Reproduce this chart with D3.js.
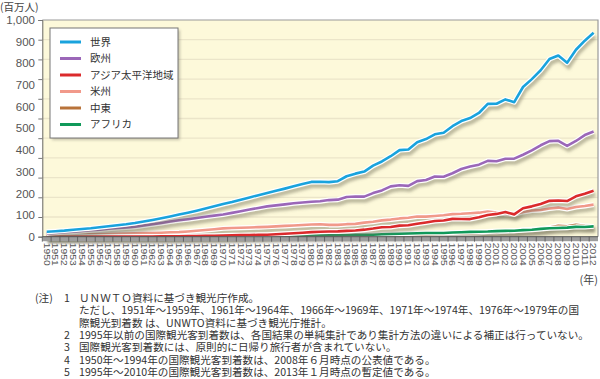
<!DOCTYPE html>
<html>
<head>
<meta charset="utf-8">
<script src="https://cdn.jsdelivr.net/npm/d3@7/dist/d3.min.js"></script>
<style>
  body { margin: 0; background: #fff; }
  svg { display: block; font-family: "Noto Sans CJK JP", sans-serif; }
</style>
</head>
<body>
<div class="canvas"></div>
<script>
// Data (百万人)
const years = d3.range(1950, 2013)

const world = [25.3, 28, 31, 35, 39, 43, 48, 53, 58, 63,
  69.3, 77, 85, 94, 103, 112.9, 122, 132, 143, 154,
  165.8, 176, 188, 199, 211, 222.3, 233, 244, 256, 267,
  278.1, 278.6, 276.9, 281.8, 306.8, 320.1, 330.5, 360.6, 381.9, 408.6,
  439.5, 442.5, 479.8, 495.7, 519.8, 528, 561, 587, 602, 628,
  674, 675, 697, 683, 760, 800, 845, 902, 920, 883,
  949, 995, 1035]

const europe = [16.8, 19.5, 22.5, 25.5, 29, 32.5, 36, 40, 44, 47,
  50.4, 57, 63, 70, 77, 83.7, 89, 95, 101, 107,
  113, 121, 129, 138, 146, 153.9, 159, 164, 170, 174,
  177.3, 180.1, 185.9, 188.1, 201.9, 204.3, 203.4, 221.4, 235, 255.3,
  261.5, 257.9, 282.3, 288.2, 305.7, 304, 322.3, 343.8, 356.1, 365.6,
  385, 383, 396, 396, 416, 438, 464, 485, 487, 461,
  486, 516, 534]

const asiaPacific = [0.2, 0.3, 0.3, 0.4, 0.4, 0.5, 0.5, 0.6, 0.7, 0.8,
  0.9, 1.1, 1.3, 1.5, 1.8, 2.1, 2.7, 3.4, 4.2, 5.1,
  6.2, 7, 7.8, 8.6, 9.4, 10.2, 12.5, 15, 17.5, 20.2,
  23, 24.9, 26.2, 26.9, 29.5, 31.1, 35.7, 41.4, 48.2, 49.4,
  56.2, 58, 65.8, 72.5, 79.7, 82, 90.4, 89.7, 89.4, 98.5,
  110.1, 115.7, 124.9, 113.3, 144.2, 154, 166, 182, 184.1, 180.9,
  204.9, 218.2, 233.6]

const americas = [7.5, 8.3, 9.1, 10, 10.8, 11.7, 12.6, 13.6, 14.6, 15.6,
  16.7, 17.9, 19.1, 20.4, 21.8, 23.2, 26.6, 30.2, 34.2, 38.1,
  42.3, 43.8, 45.3, 46.8, 48.4, 50, 52.4, 54.8, 57.2, 59.7,
  62.3, 63, 60, 59.9, 63.6, 65.1, 71.6, 76, 83, 86.9,
  92.8, 95.8, 102.2, 102.1, 105.1, 109, 114.5, 116.2, 119.2, 122,
  128.2, 122.1, 116.7, 113.1, 125.8, 133.3, 135.8, 142.9, 147.8, 140.6,
  150.7, 156, 162.7]

const middleEast = [0.2, 0.2, 0.3, 0.3, 0.3, 0.4, 0.4, 0.5, 0.5, 0.6,
  0.6, 0.8, 1, 1.2, 1.4, 1.7, 1.7, 1.8, 1.8, 1.9,
  1.9, 2.3, 2.9, 3.3, 3.9, 4.5, 5.1, 5.8, 6.4, 6.8,
  7.1, 8.1, 7.9, 8.2, 7.7, 7.5, 7, 7.7, 8.1, 8.6,
  9.6, 8.4, 10.4, 11.4, 12.5, 13.7, 14.9, 15.6, 15.9, 19,
  24.1, 24.2, 28.4, 29.5, 35.4, 37.9, 40.9, 46.4, 55.6, 52.8,
  60.9, 55.4, 52]

const africa = [0.5, 0.5, 0.5, 0.6, 0.6, 0.6, 0.7, 0.7, 0.7, 0.8,
  0.8, 0.9, 1, 1.1, 1.2, 1.4, 1.6, 1.8, 2, 2.2,
  2.4, 2.8, 3.3, 3.8, 4.2, 4.7, 5.1, 5.6, 6.2, 6.7,
  7.2, 8.1, 7.6, 8.2, 8.9, 9.7, 9.4, 10.2, 12.8, 13.8,
  14.8, 16.2, 17.6, 18.5, 18.9, 18.9, 21, 22.4, 24.4, 25.4,
  26.2, 28.4, 29.5, 30.5, 33.2, 35.4, 39.6, 43, 44.4, 45.9,
  49.9, 49.4, 52.4]

const seriesNames = ['世界', '欧州', 'アジア太平洋地域', '米州', '中東', 'アフリカ']
const seriesValues = [world, europe, asiaPacific, americas, middleEast, africa]
const seriesColors = ['#19a3dd', '#9b67b8', '#db2a2c', '#f1998a', '#b8733a', '#10995a']

const yTicks = d3.range(0, 1101, 100)
const yTickLabels = d3.range(0, 1001, 100)

const notes = [
  ['(注)', '1', 'ＵＮＷＴＯ資料に基づき観光庁作成。'],
  ['', '', 'ただし、1951年～1959年、1961年～1964年、1966年～1969年、1971年～1974年、1976年～1979年の国'],
  ['', '', '際観光到着数 は、UNWTO資料に基づき観光庁推計。'],
  ['', '2', '1995年以前の国際観光客到着数は、各国結果の単純集計であり集計方法の違いによる補正は行っていない。'],
  ['', '3', '国際観光客到着数には、原則的に日帰り旅行者が含まれていない。'],
  ['', '4', '1950年～1994年の国際観光客到着数は、2008年６月時点の公表値である。'],
  ['', '5', '1995年～2010年の国際観光客到着数は、2013年１月時点の暫定値である。']
]

// Canvas
const wWidth = 600
const wHeight = 379
const plot = {left: 42.3, right: 598, top: 20, bottom: 236.7}

const svg = d3.select('.canvas')
  .append('svg')
  .attr('width', wWidth)
  .attr('height', wHeight)

const defs = svg.append('defs')
defs.append('filter')
  .attr('id', 'blur')
  .attr('x', '-10%').attr('y', '-50%')
  .attr('width', '120%').attr('height', '200%')
  .append('feGaussianBlur')
  .attr('stdDeviation', 1.6)

// Scales
const x = d3.scaleBand()
  .domain(years)
  .range([plot.left, plot.right])
const xc = yr => x(yr) + x.bandwidth() / 2

const y = d3.scaleLinear()
  .domain([0, 1100])
  .range([plot.bottom, plot.top])
// the labels of the original are spread over the full height
const yLab = d3.scaleLinear()
  .domain([0, 1000])
  .range([plot.bottom, plot.top])

// Plot background
svg.append('rect')
  .attr('x', plot.left)
  .attr('y', plot.top)
  .attr('width', plot.right - plot.left)
  .attr('height', plot.bottom - plot.top)
  .attr('fill', '#fdf9da')

// Grid lines
svg.append('g')
  .selectAll('line')
  .data(yTicks.filter(d => d > 0 && d < 1100))
  .enter()
  .append('line')
  .attr('x1', plot.left)
  .attr('x2', plot.right)
  .attr('y1', d => y(d))
  .attr('y2', d => y(d))
  .attr('stroke', '#ebe5c9')
  .attr('stroke-width', 1.3)

// Frame (top, right)
svg.append('path')
  .attr('d', `M${plot.left},${plot.top}H${plot.right}V${plot.bottom}`)
  .attr('fill', 'none')
  .attr('stroke', '#9a9a9a')
  .attr('stroke-width', 1.2)

// Y axis
const yAxisG = svg.append('g')
  .attr('transform', `translate(${plot.left}, 0)`)
  .call(d3.axisLeft(y).tickValues(yTicks).tickSize(4).tickFormat(''))
yAxisG.select('.domain').attr('stroke', '#666')
yAxisG.selectAll('.tick line').attr('stroke', '#777')

svg.append('g')
  .selectAll('text')
  .data(yTickLabels)
  .enter()
  .append('text')
  .attr('x', 35)
  .attr('y', d => yLab(d))
  .attr('dy', '0.36em')
  .attr('text-anchor', 'end')
  .attr('font-family', '"Liberation Sans", Arial, sans-serif')
  .attr('font-size', 11.5)
  .attr('fill', '#555')
  .text(d => d3.format(',')(d))

svg.append('text')
  .attr('x', 0)
  .attr('y', 11)
  .attr('font-size', 10.5)
  .attr('fill', '#444')
  .text('(百万人)')

// Lines
const line = d3.line()
  .x((d, i) => xc(years[i]))
  .y(d => y(d))

const drawOrder = [4, 5, 3, 2, 1, 0]
drawOrder.forEach(k => {
  const g = svg.append('g')
  g.append('path')
    .attr('d', line(seriesValues[k]))
    .attr('fill', 'none')
    .attr('stroke', '#6e6a55')
    .attr('stroke-opacity', 0.45)
    .attr('stroke-width', 5)
    .attr('transform', 'translate(1.5, 3.5)')
    .attr('filter', 'url(#blur)')
  g.append('path')
    .attr('d', line(seriesValues[k]))
    .attr('fill', 'none')
    .attr('stroke', '#fff')
    .attr('stroke-width', 5)
    .attr('stroke-linejoin', 'round')
  g.append('path')
    .attr('d', line(seriesValues[k]))
    .attr('fill', 'none')
    .attr('stroke', seriesColors[k])
    .attr('stroke-width', 2.6)
    .attr('stroke-linejoin', 'round')
})

// X axis ruler
svg.append('rect')
  .attr('x', plot.left)
  .attr('y', plot.bottom)
  .attr('width', plot.right - plot.left)
  .attr('height', 4.5)
  .attr('fill', '#9d9d9d')
svg.append('line')
  .attr('x1', plot.left).attr('x2', plot.right)
  .attr('y1', plot.bottom).attr('y2', plot.bottom)
  .attr('stroke', '#555')
svg.append('g')
  .selectAll('line')
  .data(years)
  .enter()
  .append('line')
  .attr('x1', d => x(d))
  .attr('x2', d => x(d))
  .attr('y1', plot.bottom)
  .attr('y2', plot.bottom + 5)
  .attr('stroke', '#555')
  .attr('stroke-width', 0.8)

svg.append('g')
  .selectAll('text')
  .data(years)
  .enter()
  .append('text')
  .attr('transform', d => `translate(${xc(d) - 3.1}, ${plot.bottom + 6}) rotate(90)`)
  .attr('font-family', '"Liberation Sans", Arial, sans-serif')
  .attr('font-size', 8.6)
  .attr('textLength', 23)
  .attr('lengthAdjust', 'spacingAndGlyphs')
  .attr('fill', '#555')
  .text(d => d)

svg.append('text')
  .attr('x', 598)
  .attr('y', 284)
  .attr('text-anchor', 'end')
  .attr('font-size', 11)
  .attr('fill', '#444')
  .text('(年)')

// Legend
const legend = svg.append('g')
legend.append('rect')
  .attr('x', 52).attr('y', 30)
  .attr('width', 128).attr('height', 110)
  .attr('fill', '#8d8a78')
  .attr('opacity', 0.5)
  .attr('filter', 'url(#blur)')
legend.append('rect')
  .attr('x', 50).attr('y', 28)
  .attr('width', 128).attr('height', 110)
  .attr('fill', '#fff')
  .attr('stroke', '#777')
  .attr('stroke-width', 1)
const legendItems = legend.selectAll('g.item')
  .data(seriesNames)
  .enter()
  .append('g')
  .attr('transform', (d, i) => `translate(0, ${42 + i * 16.5})`)
legendItems.append('line')
  .attr('x1', 60).attr('x2', 81)
  .attr('stroke', (d, i) => seriesColors[i])
  .attr('stroke-width', 3)
legendItems.append('text')
  .attr('x', 90)
  .attr('dy', '0.36em')
  .attr('font-size', 10.5)
  .attr('fill', '#333')
  .text(d => d)

// Notes
const noteG = svg.append('g')
  .attr('font-size', 10.6)
  .attr('fill', '#333')
notes.forEach((n, i) => {
  const yy = 302 + i * 12.3
  noteG.append('text').attr('x', 35).attr('y', yy).text(n[0])
  noteG.append('text').attr('x', 64).attr('y', yy).text(n[1])
  noteG.append('text').attr('x', 79).attr('y', yy).text(n[2])
})
</script>
</body>
</html>
